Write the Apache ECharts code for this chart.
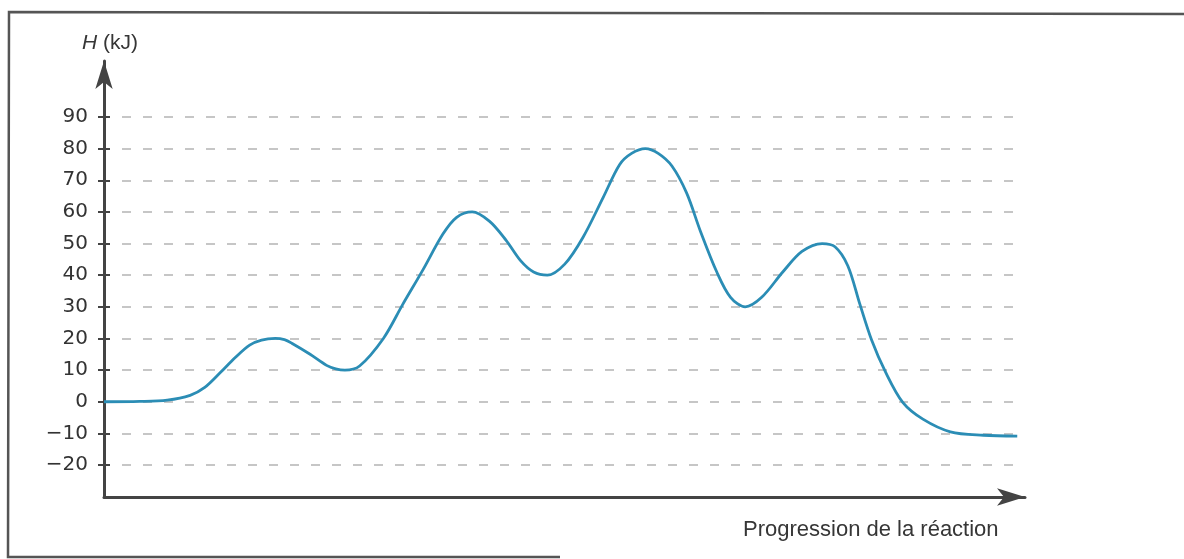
<!DOCTYPE html>
<html>
<head>
<meta charset="utf-8">
<script src="https://cdn.jsdelivr.net/npm/echarts@6/dist/echarts.min.js"></script>
<style>
html,body{margin:0;padding:0;background:#fff;}
#chart{width:1184px;height:559px;}
</style>
</head>
<body>
<div id="chart"></div>
<script>
// ---- data ----
const progress = [0, 3.9, 6.9, 9.4, 11.0, 12.7, 14.3, 15.9, 17.2, 18.7,
  19.7, 20.5, 22.5, 24.3, 25.3, 26.3,
  27.9, 30.5, 32.6, 34.8, 37.0, 38.5, 40.2,
  42.1, 43.9, 45.5, 46.9, 48.4,
  50.3, 52.3, 54.5, 56.3, 57.6, 59.1,
  60.5, 62.0, 63.6, 65.1, 66.9, 68.4, 70.0,
  71.8, 74.1, 76.2, 78.4,
  79.8, 81.2, 82.5, 83.8, 85.3, 87.2, 89.4, 92.4, 96.0, 99.7];
const enthalpy = [0, 0.1, 0.5, 2, 4.5, 9.2, 13.9, 17.9, 19.5, 20,
  19.6, 18.5, 15, 11.5, 10.4, 10,
  11.3, 20, 30.7, 41.6, 53, 58.3, 60,
  57, 51, 44.5, 41, 40,
  43.5, 52, 64.6, 75, 78.5, 80,
  78.5, 74.5, 66, 54, 41, 33, 30,
  33, 41, 47.5, 50,
  49, 43, 31, 19.5, 9.5, -0.2, -5.5, -9.5, -10.6, -10.9];
const yTickMin = -20;
const yTickMax = 90;
const yTickStep = 10;
const yAxisTitle = 'H';
const yAxisUnit = ' (kJ)';
const xAxisTitle = 'Progression de la réaction';

const seriesData = progress.map((p, i) => [p, enthalpy[i]]);
const ink = '#444';
const txt = '#363636';

const chart = echarts.init(document.getElementById('chart'), null, {renderer: 'canvas'});
const yScale = {type: 'value', min: yTickMin, max: yTickMax, interval: yTickStep};

chart.setOption({
  animation: false,
  backgroundColor: '#fff',
  title: [
    {
      text: '{i|' + yAxisTitle + '}{n|' + yAxisUnit + '}',
      left: 77, top: 28,
      textStyle: {
        fontWeight: 'normal',
        rich: {
          i: {fontFamily: 'Liberation Sans', fontSize: 21, fontStyle: 'italic', fontWeight: 'normal', color: txt},
          n: {fontFamily: 'Liberation Sans', fontSize: 21, fontWeight: 'normal', color: txt}
        }
      }
    },
    {
      text: xAxisTitle,
      left: 738, top: 514,
      textStyle: {fontFamily: 'Liberation Sans', fontSize: 22, fontWeight: 'normal', color: txt}
    }
  ],
  grid: [
    {left: 104, right: 164, top: 117, bottom: 94},
    {left: 122, right: 164, top: 117, bottom: 94},
    {left: 104, right: 159, top: 61, bottom: 62}
  ],
  xAxis: [
    {gridIndex: 0, type: 'value', min: 0, max: 100, show: false},
    {gridIndex: 1, type: 'value', min: 0, max: 100, show: false},
    {gridIndex: 2, type: 'value', min: 0, max: 1, position: 'bottom',
      axisLine: {show: true, onZero: false, symbol: ['none', 'arrow'], symbolSize: [13, 28], lineStyle: {color: ink, width: 3}},
      axisTick: {show: false}, axisLabel: {show: false}, splitLine: {show: false}}
  ],
  yAxis: [
    Object.assign({gridIndex: 0, position: 'left',
      axisLine: {show: false},
      axisTick: {show: true, inside: false, length: 6, lineStyle: {color: ink, width: 2}},
      axisLabel: {show: true, margin: 16, fontFamily: 'DejaVu Sans', fontSize: 20, color: '#333',
        formatter: v => (v < 0 ? '\u2212' + Math.abs(v) : String(v))},
      splitLine: {show: false}}, yScale),
    Object.assign({gridIndex: 0, position: 'left',
      axisLine: {show: false},
      axisTick: {show: true, inside: true, length: 6, lineStyle: {color: ink, width: 2}},
      axisLabel: {show: false}, splitLine: {show: false}}, yScale),
    Object.assign({gridIndex: 1, position: 'left',
      axisLine: {show: false}, axisTick: {show: false}, axisLabel: {show: false},
      splitLine: {show: true, lineStyle: {color: '#c6c6c6', width: 2, type: [9, 12]}}}, yScale),
    {gridIndex: 2, type: 'value', min: 0, max: 1, position: 'left',
      axisLine: {show: true, onZero: false, symbol: ['none', 'arrow'], symbolSize: [13, 28], lineStyle: {color: ink, width: 3}},
      axisTick: {show: false}, axisLabel: {show: false}, splitLine: {show: false}}
  ],
  graphic: [
    {type: 'polyline', silent: true, shape: {points: [[1184, 14], [9, 12], [8, 557], [560, 557]]},
      style: {stroke: '#555', lineWidth: 2.5, fill: null}}
  ],
  series: [
    {
      type: 'line',
      xAxisIndex: 0, yAxisIndex: 0,
      data: seriesData,
      smooth: 0.32,
      showSymbol: false,
      lineStyle: {color: '#2b8db5', width: 2.8},
      z: 5
    }
  ]
});
</script>
</body>
</html>
